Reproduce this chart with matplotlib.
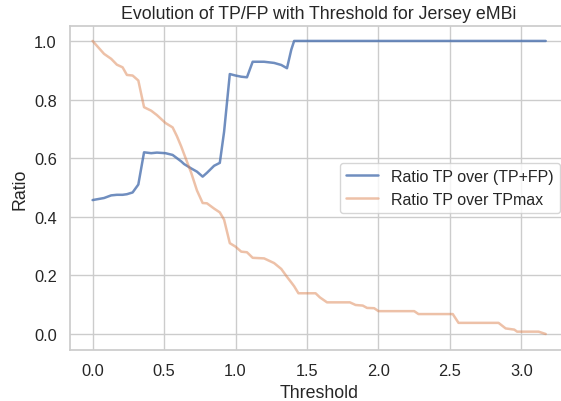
import numpy as np
import matplotlib
matplotlib.use("Agg")
import matplotlib.pyplot as plt
import seaborn as sns

sns.set_theme(style="whitegrid")
plt.rcParams['font.family'] = ['Liberation Sans', 'DejaVu Sans']

# thresholds where the curves change slope
threshold = [0.0, 0.08, 0.13, 0.17, 0.21, 0.24, 0.28, 0.32, 0.36, 0.41,
             0.45, 0.51, 0.56, 0.59, 0.62, 0.64, 0.69, 0.73, 0.77, 0.80,
             0.85, 0.89, 0.92, 0.96, 1.00, 1.04, 1.08, 1.12, 1.20, 1.27,
             1.32, 1.36, 1.39, 1.41, 1.44, 1.56, 1.59, 1.64, 1.80, 1.84,
             1.89, 1.92, 1.97, 2.00, 2.25, 2.28, 2.52, 2.56, 2.84, 2.89,
             2.95, 2.97, 3.12, 3.17]

# ratio TP / (TP+FP)
precision = [0.457, 0.464, 0.473, 0.475, 0.475, 0.477, 0.483, 0.510, 0.620, 0.617,
             0.619, 0.617, 0.611, 0.600, 0.589, 0.580, 0.565, 0.554, 0.537, 0.550,
             0.574, 0.584, 0.690, 0.887, 0.882, 0.878, 0.876, 0.929, 0.929, 0.925,
             0.918, 0.907, 0.970, 1.0, 1.0, 1.0, 1.0, 1.0, 1.0, 1.0,
             1.0, 1.0, 1.0, 1.0, 1.0, 1.0, 1.0, 1.0, 1.0, 1.0,
             1.0, 1.0, 1.0, 1.0]

# ratio TP / TPmax
recall = [1.0, 0.956, 0.939, 0.919, 0.910, 0.884, 0.882, 0.865, 0.774, 0.762,
          0.747, 0.720, 0.705, 0.675, 0.640, 0.614, 0.550, 0.490, 0.447, 0.446,
          0.428, 0.415, 0.390, 0.310, 0.298, 0.281, 0.279, 0.260, 0.258, 0.242,
          0.222, 0.195, 0.176, 0.163, 0.139, 0.139, 0.125, 0.108, 0.108, 0.099,
          0.097, 0.089, 0.088, 0.078, 0.078, 0.068, 0.068, 0.038, 0.038, 0.019,
          0.015, 0.008, 0.008, 0.0]

fig = plt.figure(figsize=(5.61, 4.02), dpi=100)
ax = fig.add_axes([70/561, 1 - 351/402, 498/561, 324/402])
ax.plot(threshold, precision, color="#4C72B0", alpha=0.8, linewidth=1.8,
        label="Ratio TP over (TP+FP)")
ax.plot(threshold, recall, color="#DD8452", alpha=0.5, linewidth=1.8,
        label="Ratio TP over TPmax")
ax.set_xlim(-0.158, 3.326)
ax.set_ylim(-0.0546, 1.051)
ax.set_xticks([0.0, 0.5, 1.0, 1.5, 2.0, 2.5, 3.0])
ax.set_yticks([0.0, 0.2, 0.4, 0.6, 0.8, 1.0])
ax.tick_params(labelsize=11.8)
ax.set_xlabel("Threshold", fontsize=12.8)
ax.set_ylabel("Ratio", fontsize=12.8)
ax.set_title("Evolution of TP/FP with Threshold for Jersey eMBi", fontsize=12.8)
ax.legend(loc="center right", fontsize=11.5)
fig.savefig("out.png", dpi=100)
